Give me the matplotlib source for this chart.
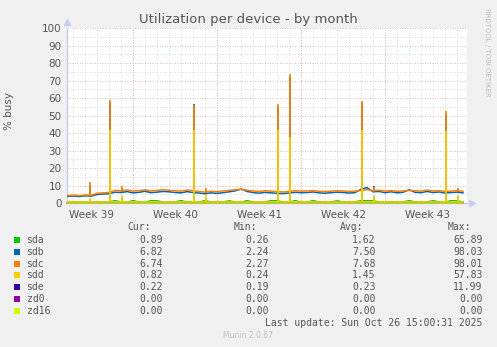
import matplotlib
matplotlib.use("Agg")
import matplotlib.pyplot as plt
from matplotlib.patches import Rectangle
import numpy as np

W, H = 497, 347

# time axis in days from the left edge of the plot (0.5 day steps)
days = np.arange(0, 33.5, 0.5)

sdc = [4.3, 4.5, 4.2, 4.6, 4.4,
       5.6, 5.8, 6.0,
       7.2, 7.0, 7.4, 6.8, 7.1, 7.5, 6.9, 7.2, 7.6, 7.3, 7.0, 6.8, 7.4,
       7.0, 6.6, 6.2, 6.8, 6.4, 6.9, 7.2, 7.6, 7.8, 7.3, 6.9, 6.6, 7.0, 6.8, 6.5,
       6.3, 6.6, 7.0, 6.8, 6.9, 7.1, 6.7, 6.5, 6.8, 7.0, 6.9, 6.6, 6.8,
       7.2, 7.6, 7.0, 7.3, 6.8, 7.1, 6.7, 6.9, 7.2, 7.0, 6.8, 7.4, 6.9, 7.1, 6.6, 6.8, 7.0, 6.7]
sdb = [3.8, 4.0, 3.7, 4.1, 3.9,
       4.9, 5.1, 5.3,
       6.2, 6.0, 6.5, 5.8, 6.1, 6.7, 5.9, 6.2, 6.6, 6.4, 6.0, 5.8, 6.5,
       6.0, 5.7, 5.3, 5.8, 5.5, 5.9, 6.4, 6.9, 8.0, 6.6, 6.0, 5.6, 6.1, 5.8, 5.5,
       5.4, 5.7, 6.1, 5.9, 6.0, 6.3, 5.8, 5.6, 5.9, 6.2, 6.0, 5.7, 5.9,
       7.9, 8.8, 6.4, 6.6, 5.9, 6.4, 5.8, 6.1, 7.6, 6.1, 5.9, 6.6, 6.0, 6.3, 5.7, 6.0, 6.2, 5.8]
sda = [0.5, 0.6, 0.5, 0.6, 0.5,
       0.6, 0.5, 0.6,
       1.3, 0.6, 0.5, 1.3, 0.6, 0.5, 1.3, 1.2, 0.6, 0.5, 0.6, 1.3, 0.6,
       0.6, 0.5, 1.3, 0.6, 0.5, 0.6, 1.2, 0.6, 0.5, 1.3, 0.6, 0.5, 0.6, 1.3, 1.2,
       0.6, 0.5, 1.3, 0.6, 0.5, 1.3, 0.6, 0.5, 0.6, 1.2, 0.6, 0.5, 0.6,
       1.3, 1.3, 1.2, 0.6, 0.5, 0.6, 0.5, 0.6, 1.3, 0.6, 0.5, 0.6, 1.3, 0.6, 0.5, 1.3, 1.2, 0.6]
sdd = [0.8] * 67
sde = [0.2] * 67
zd0 = [0.0] * 67
zd16 = [0.0] * 67

spike_days = [1.9, 3.6, 4.6, 10.6, 11.6, 17.6, 18.6, 24.6, 25.6, 31.6, 32.6]
sda_peak = [2.5, 40.0, 3.5, 40.0, 3.0, 40.0, 36.0, 40.0, 3.5, 39.0, 3.5]
sdb_peak = [10.5, 57.5, 8.5, 56.5, 7.5, 55.0, 72.0, 57.0, 10.0, 51.0, 8.0]
sdc_peak = [12.2, 58.9, 9.8, 56.0, 8.5, 56.6, 73.7, 58.3, 9.0, 52.6, 8.8]
sdd_peak = [3.0, 42.0, 4.5, 42.0, 4.5, 42.0, 38.0, 42.0, 4.5, 41.0, 4.5]

week_pos = [2, 9, 16, 23, 30]
week_labels = ["Week 39", "Week 40", "Week 41", "Week 42", "Week 43"]
week_lines = [5.5, 12.5, 19.5, 26.5]

names = ["sda", "sdb", "sdc", "sdd", "sde", "zd0", "zd16"]
colors = ["#00CC00", "#0066B3", "#FF8000", "#FFCC00", "#330099", "#990099", "#CCFF00"]
cur = ["0.89", "6.82", "6.74", "0.82", "0.22", "0.00", "0.00"]
mins = ["0.26", "2.24", "2.27", "0.24", "0.19", "0.00", "0.00"]
avgs = ["1.62", "7.50", "7.68", "1.45", "0.23", "0.00", "0.00"]
maxs = ["65.89", "98.03", "98.01", "57.83", "11.99", "0.00", "0.00"]

series = [sda, sdb, sdc, sdd, sde, zd0, zd16]
peaks = [sda_peak, sdb_peak, sdc_peak, sdd_peak, None, None, None]

fig = plt.figure(figsize=(W / 100, H / 100), dpi=100, facecolor="#F0F0F0")
ax = fig.add_axes([67 / W, 1 - 203 / H, 400 / W, 175 / H])
ax.set_facecolor("white")
ax.set_xlim(0, 33.33)
ax.set_ylim(0, 100)

# grid
for d in np.arange(0.5, 33.4, 1.0):
    ax.axvline(d, color="#D0D0D0", lw=0.6, ls=(0, (1, 2)), zorder=0)
for y in range(5, 101, 10):
    ax.axhline(y, color="#D0D0D0", lw=0.6, ls=(0, (1, 2)), zorder=0)
for d in week_lines:
    ax.axvline(d, color="#E4A0A0", lw=0.6, ls=(0, (1, 2)), zorder=0)
for y in range(10, 101, 10):
    ax.axhline(y, color="#E4A0A0", lw=0.6, ls=(0, (1, 2)), zorder=0)

for i, (s, c) in enumerate(zip(series, colors)):
    ax.plot(days, s, color=c, lw=1.1, zorder=2 + i, clip_on=i < 5)
    if peaks[i] is not None:
        base = np.interp(spike_days, days, s)
        ax.vlines(spike_days, base, peaks[i], color=c, lw=1.2, zorder=2 + i)

ax.set_yticks(range(0, 101, 10))
ax.set_xticks(week_pos)
ax.set_xticklabels(week_labels)
ax.tick_params(axis="x", length=0, pad=5, labelsize=7.5, colors="#555555")
ax.tick_params(axis="y", length=0, pad=4, labelsize=7.5, colors="#555555")
for sp in ["top", "right"]:
    ax.spines[sp].set_visible(False)
for sp in ["left", "bottom"]:
    ax.spines[sp].set_color("#C8CCF0")
    ax.spines[sp].set_linewidth(1.0)
ax.plot([0], [103.5], marker="^", color="#C8CCF0", ms=5, clip_on=False)
ax.plot([33.33 + 0.4], [0], marker=">", color="#C8CCF0", ms=5, clip_on=False)

fig.text(248.5 / W, 1 - 19 / H, "Utilization per device - by month", ha="center", va="center",
         fontsize=9.5, color="#555555")
fig.text(9 / W, 1 - 111 / H, "% busy", rotation=90, ha="center", va="center",
         fontsize=7.5, color="#555555")
fig.text(487 / W, 1 - 52 / H, "RRDTOOL / TOBI OETIKER", rotation=270, ha="center", va="center",
         fontsize=5, color="#C0C0C0")

mono = "DejaVu Sans Mono"
fs = 7
col_right = [162.7, 269.3, 375.7, 482.7]
headers = ["Cur:", "Min:", "Avg:", "Max:"]
for x, h in zip(col_right, headers):
    fig.text((x - 12) / W, 1 - 227.5 / H, h, ha="right", va="center", family=mono, fontsize=fs, color="#555555")

row_y = [240, 251.8, 263.6, 275.4, 287.2, 299.0, 310.8]
for i, name in enumerate(names):
    y = 1 - row_y[i] / H
    fig.patches.append(Rectangle((14 / W, y - 3 / H), 6 / W, 6 / H, transform=fig.transFigure,
                                 facecolor=colors[i], edgecolor="none"))
    fig.text(26.5 / W, y, name, ha="left", va="center", family=mono, fontsize=fs, color="#555555")
    for x, v in zip(col_right, [cur[i], mins[i], avgs[i], maxs[i]]):
        fig.text(x / W, y, v, ha="right", va="center", family=mono, fontsize=fs, color="#555555")

fig.text(482.7 / W, 1 - 323 / H, "Last update: Sun Oct 26 15:00:31 2025", ha="right", va="center",
         family=mono, fontsize=fs, color="#555555")
fig.text(248 / W, 1 - 336 / H, "Munin 2.0.67", ha="center", va="center", fontsize=5.5, color="#C0C0C0")

fig.savefig("out.png", dpi=100, facecolor=fig.get_facecolor())
